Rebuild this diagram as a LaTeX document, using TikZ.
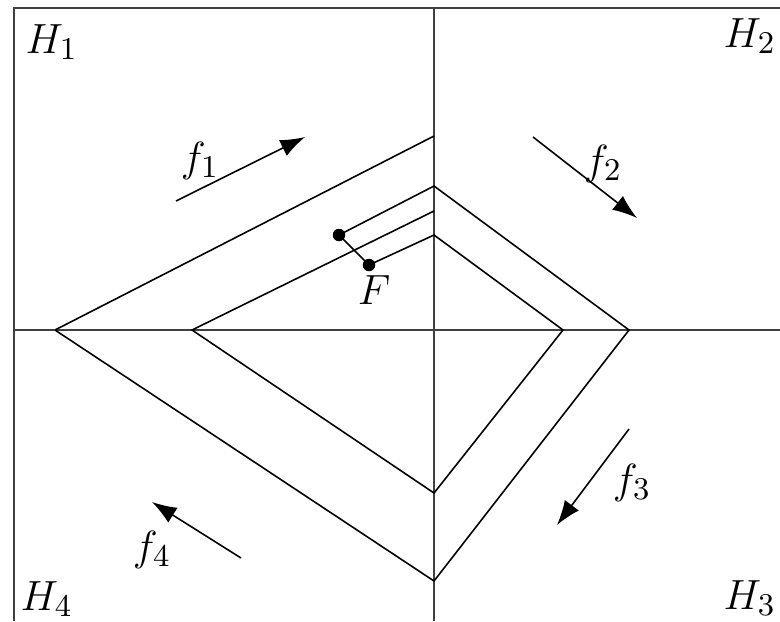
\documentclass[tikz,border=0pt]{standalone}
\usetikzlibrary{arrows.meta}
\begin{document}
\begin{tikzpicture}[x=0.01cm,y=-0.01cm,
  ln/.style={line width=0.45pt, black},
  ax/.style={line width=0.55pt, black!75},
  flow/.style={line width=0.45pt, -{Latex[length=7pt,width=5pt]}},
  lab/.style={inner sep=0pt, font=\fontsize{13.2}{16}\selectfont},
  dot/.style={circle, fill=black, inner sep=0pt, minimum size=0.125cm}]
\useasboundingbox (0,0) rectangle (780,621);
% frame (top and left edges visible)
\coordinate (TL) at (14,8);
\coordinate (TR) at (780,8);
\coordinate (BL) at (14,621);
\draw[ax] (TR) -- (TL) -- (BL);
% axes
\coordinate (AT) at (434,8);
\coordinate (AB) at (434,621);
\coordinate (AL) at (14,330);
\coordinate (AR) at (780,330);
\draw[ax] (AT) -- (AB);
\draw[ax] (AL) -- (AR);
% vertices
\coordinate (O1) at (55,330);
\coordinate (O2) at (434,136);
\coordinate (O3) at (434,186);
\coordinate (O4) at (629,330);
\coordinate (O5) at (434,581);
\coordinate (I1) at (192,330);
\coordinate (I2) at (434,211);
\coordinate (I3) at (434,235);
\coordinate (I4) at (563,330);
\coordinate (I5) at (434,493);
\node[dot] (P) at (339,235) {};
\node[dot] (Q) at (369,265) {};
% outer path
\draw[ln] (O1) -- (O2);
\draw[ln] (P.center) -- (O3) -- (O4) -- (O5) -- (O1);
% inner path
\draw[ln] (I2) -- (I1) -- (I5) -- (I4) -- (I3) -- (Q.center);
% segment F
\draw[ln] (P.center) -- (Q.center);
\node[lab] (F) at (374,290) {$F$};
% flows
\coordinate (a1) at (176,201); \coordinate (b1) at (305,137);
\coordinate (a2) at (533,137); \coordinate (b2) at (637,218);
\coordinate (a3) at (629,429); \coordinate (b3) at (557,525);
\coordinate (a4) at (241,558); \coordinate (b4) at (152,502);
\draw[flow] (a1) -- (b1);
\draw[flow] (a2) -- (b2);
\draw[flow] (a3) -- (b3);
\draw[flow] (a4) -- (b4);
\node[lab] (f1) at (200,161) {$f_1$};
\node[lab] (f2) at (603,164) {$f_2$};
\node[lab] (f3) at (632,483) {$f_3$};
\node[lab] (f4) at (152,550) {$f_4$};
% region labels
\node[lab, anchor=base west] (H1) at (25,53) {$H_1$};
\node[lab, anchor=base west] (H2) at (723,47) {$H_2$};
\node[lab, anchor=base west] (H3) at (723,609) {$H_3$};
\node[lab, anchor=base west] (H4) at (20,610) {$H_4$};
\end{tikzpicture}
\end{document}
